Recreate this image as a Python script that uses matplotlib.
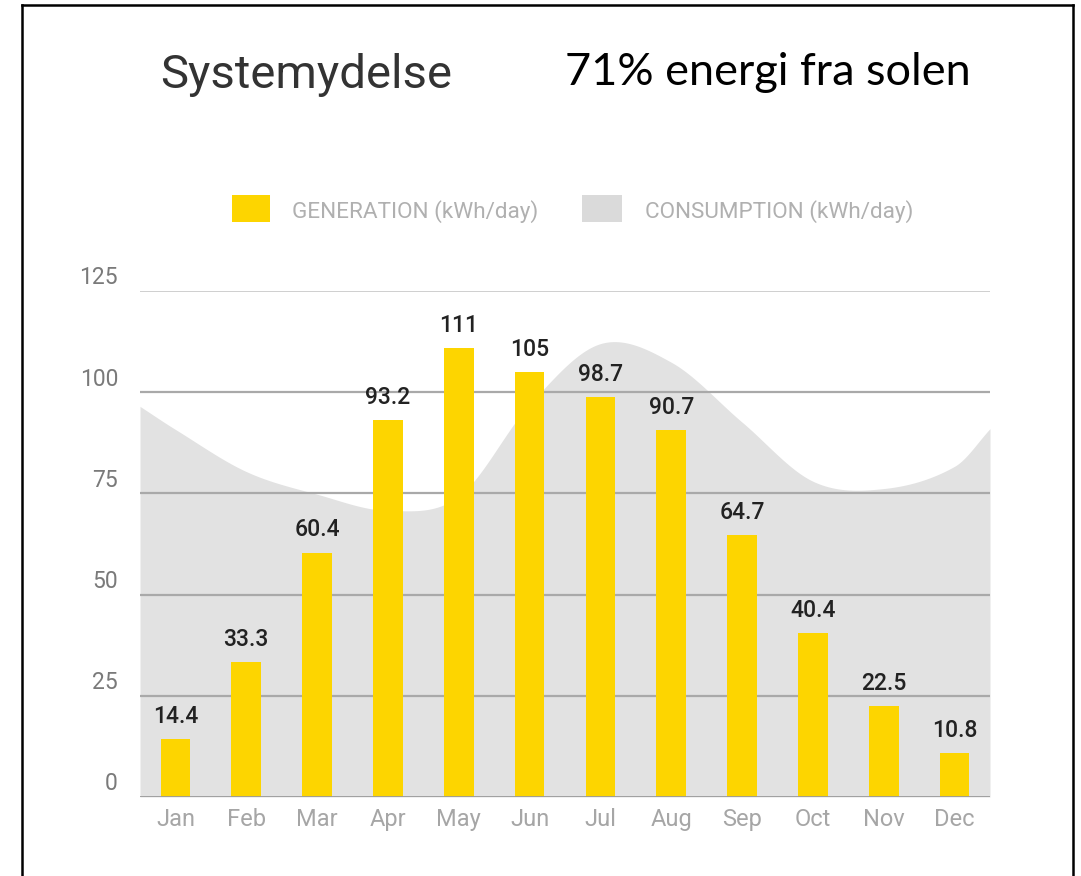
import matplotlib
matplotlib.use('Agg')
import matplotlib.pyplot as plt
from matplotlib.lines import Line2D
from matplotlib.patches import Rectangle
from matplotlib.transforms import offset_copy
import numpy as np

months = ['Jan', 'Feb', 'Mar', 'Apr', 'May', 'Jun',
          'Jul', 'Aug', 'Sep', 'Oct', 'Nov', 'Dec']
generation = [14.4, 33.3, 60.4, 93.2, 111, 105, 98.7, 90.7, 64.7, 40.4, 22.5, 10.8]
gen_labels = ['14.4', '33.3', '60.4', '93.2', '111', '105',
              '98.7', '90.7', '64.7', '40.4', '22.5', '10.8']
# consumption read at each month, plus the values where the area meets the plot edges
consumption = [90.8, 80.4, 74.8, 70.8, 74.3, 97, 112, 107.4, 92.6, 78, 76.2, 81.7]
cons_left_edge = 96.5
cons_right_edge = 91
yticks = [0, 25, 50, 75, 100, 125]

title = 'Systemydelse'
subtitle = '71% energi fra solen'
legend_gen = 'GENERATION (kWh/day)'
legend_cons = 'CONSUMPTION (kWh/day)'

YELLOW = '#FDD500'
GREY_AREA = '#E2E2E2'
CHART_FONT = ['Roboto', 'DejaVu Sans']


def smooth(xs, ys, n=40):
    # cubic hermite through the points, catmull-rom style tangents
    xs = np.asarray(xs, float)
    ys = np.asarray(ys, float)
    m = np.zeros_like(ys)
    m[1:-1] = (ys[2:] - ys[:-2]) / (xs[2:] - xs[:-2])
    m[0] = (ys[1] - ys[0]) / (xs[1] - xs[0])
    m[-1] = (ys[-1] - ys[-2]) / (xs[-1] - xs[-2])
    out_x, out_y = [], []
    for i in range(len(xs) - 1):
        h = xs[i + 1] - xs[i]
        t = np.linspace(0, 1, n, endpoint=False)
        h00 = 2 * t**3 - 3 * t**2 + 1
        h10 = t**3 - 2 * t**2 + t
        h01 = -2 * t**3 + 3 * t**2
        h11 = t**3 - t**2
        out_x.append(xs[i] + t * h)
        out_y.append(h00 * ys[i] + h10 * h * m[i] + h01 * ys[i + 1] + h11 * h * m[i + 1])
    out_x.append([xs[-1]])
    out_y.append([ys[-1]])
    return np.concatenate(out_x), np.concatenate(out_y)


W, H = 1081, 876
fig = plt.figure(figsize=(W / 100, H / 100), dpi=100)
ax = fig.add_axes([140 / W, 1 - 797 / H, 850 / W, 506 / H])

x = np.arange(len(months))
cx = [-0.5] + list(x) + [len(months) - 0.5]
cy = [cons_left_edge] + consumption + [cons_right_edge]
sx, sy = smooth(cx, cy)
ax.fill_between(sx, 0, sy, color=GREY_AREA, lw=0, zorder=1)

for v in yticks:
    if v == 0:
        ax.axhline(v, color='#9a9a9a', lw=2.0, zorder=4)
    elif v == yticks[-1]:
        ax.axhline(v, color='#cccccc', lw=1.3, zorder=2)
    else:
        ax.axhline(v, color='#a9a9a9', lw=1.6, zorder=2)

ax.bar(x, generation, width=0.42, color=YELLOW, zorder=3)
for xi, v, lab in zip(x, generation, gen_labels):
    ax.annotate(lab, (xi, v), xytext=(0, 8), textcoords='offset points',
                ha='center', va='bottom', fontsize=16.5, color='#222222',
                fontweight='medium', family=CHART_FONT, zorder=5)

ax.set_xlim(-0.5, len(months) - 0.5)
ax.set_ylim(0, 125)
for s in ax.spines.values():
    s.set_visible(False)
ax.set_yticks([])
ax.set_xticks(x)
ax.set_xticklabels(months, fontsize=17, color='#a6a6a6', family=CHART_FONT)
ax.tick_params(axis='x', length=0, pad=8)

# y labels sit a little above their gridlines, right aligned
ylab_tr = offset_copy(ax.get_yaxis_transform(), fig=fig, x=-22, y=13, units='dots')
for v in yticks:
    ax.text(0, v, str(v), transform=ylab_tr, ha='right', va='center',
            fontsize=16.5, color='#7a7a7a', family=CHART_FONT)

# legend drawn by hand to match the swatch layout
fig.add_artist(Rectangle((232 / W, 1 - 222 / H), 38 / W, 27 / H,
                         transform=fig.transFigure, color=YELLOW, lw=0))
fig.text(292 / W, 1 - 212 / H, legend_gen, ha='left', va='center',
         fontsize=16.2, color='#b0b0b0', family=CHART_FONT)
fig.add_artist(Rectangle((582 / W, 1 - 222 / H), 40 / W, 27 / H,
                         transform=fig.transFigure, color='#DADADA', lw=0))
fig.text(645 / W, 1 - 212 / H, legend_cons, ha='left', va='center',
         fontsize=16.2, color='#b0b0b0', family=CHART_FONT)

fig.text(160 / W, 1 - 88 / H, title, ha='left', va='baseline',
         fontsize=34, color='#333333', family=CHART_FONT)
fig.text(565 / W, 1 - 85 / H, subtitle, ha='left', va='baseline',
         fontsize=32.5, color='black', family=['Lato', 'DejaVu Sans'])

# black frame around the picture (bottom edge is off the image)
fr = dict(color='black', lw=1.8, transform=fig.transFigure)
fig.add_artist(Line2D([22 / W, 1073 / W], [1 - 5 / H, 1 - 5 / H], **fr))
fig.add_artist(Line2D([22 / W, 22 / W], [1 - 5 / H, 0], **fr))
fig.add_artist(Line2D([1073 / W, 1073 / W], [1 - 5 / H, 0], **fr))

fig.savefig('out.png', dpi=100)
